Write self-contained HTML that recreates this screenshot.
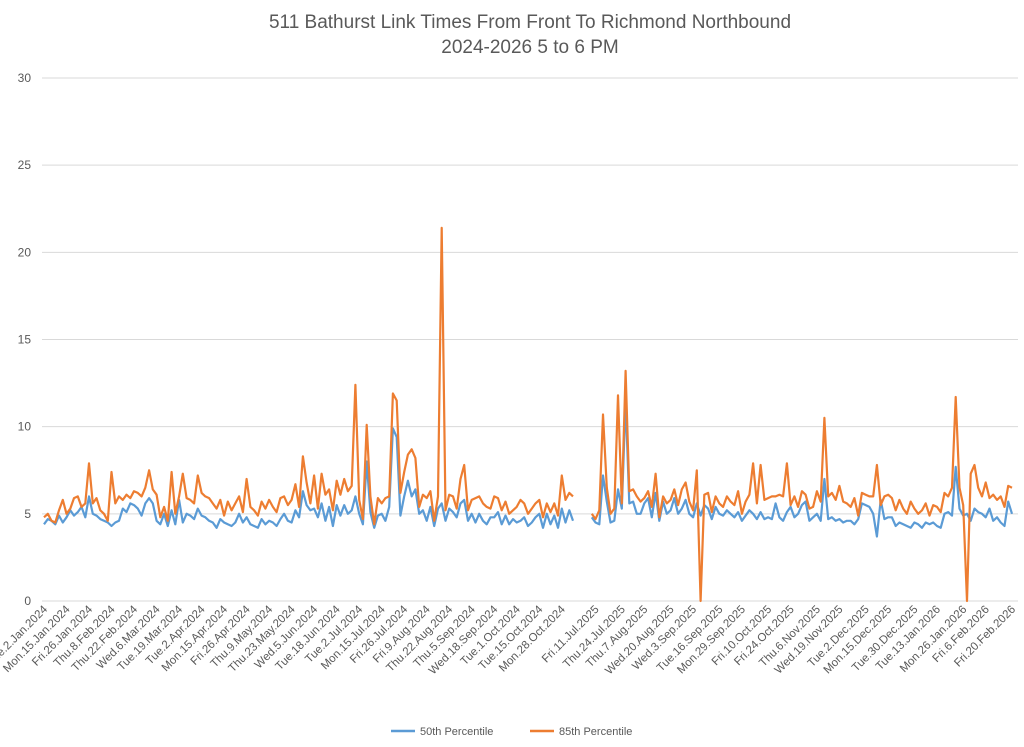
<!DOCTYPE html>
<html><head><meta charset="utf-8"><style>
body{margin:0;background:#fff;}
svg{display:block;font-family:"Liberation Sans",sans-serif;}
</style></head><body>
<svg id="chart" width="1024" height="747">
<text x="530" y="28" text-anchor="middle" font-size="19" fill="#595959">511 Bathurst Link Times From Front To Richmond Northbound</text>
<text x="530" y="53" text-anchor="middle" font-size="19" fill="#595959">2024-2026 5 to 6 PM</text>
<g id="grid"></g><g id="xl"></g><g id="lines"></g>
<g>
<line x1="391" y1="731" x2="415" y2="731" stroke="#5b9bd5" stroke-width="2.5"/>
<text x="420" y="735" font-size="11" fill="#595959">50th Percentile</text>
<line x1="530" y1="731" x2="554" y2="731" stroke="#ed7d31" stroke-width="2.5"/>
<text x="559" y="735" font-size="11" fill="#595959">85th Percentile</text>
</g>
</svg>
<script>
const yTicks=[0,5,10,15,20,25,30];
const p85_2024=[4.8,5.0,4.6,4.5,5.2,5.8,5.0,5.3,5.9,6.0,5.4,5.6,7.9,5.6,5.9,5.2,5.0,4.6,7.4,5.6,6.0,5.8,6.1,5.9,6.3,6.2,6.0,6.5,7.5,6.4,6.1,4.8,5.4,4.6,7.4,5.0,6.0,7.3,5.9,5.8,5.6,7.2,6.2,6.0,5.9,5.6,5.3,5.8,4.9,5.7,5.2,5.6,6.0,5.1,7.0,5.4,5.2,4.9,5.7,5.3,5.8,5.4,5.1,5.9,6.0,5.5,5.8,6.7,5.4,8.3,6.8,5.6,7.2,5.3,7.3,6.1,6.4,5.2,6.9,6.1,7.0,6.3,6.6,12.4,5.8,4.7,10.1,6.0,4.4,5.9,5.6,5.9,6.0,11.9,11.5,6.2,7.4,8.4,8.7,8.2,5.4,6.1,5.9,6.3,4.6,6.0,21.4,5.2,6.1,6.0,5.3,7.0,7.8,5.2,5.8,5.9,6.0,5.6,5.4,5.3,6.0,5.9,5.2,5.7,5.0,5.2,5.4,5.8,5.6,5.0,5.3,5.6,5.8,4.8,5.6,5.1,5.6,4.9,7.2,5.8,6.2,6.0];
const p50_2024=[4.4,4.7,4.6,4.4,4.9,4.5,4.8,5.2,4.9,5.1,5.4,4.8,6.0,5.0,4.9,4.7,4.6,4.5,4.3,4.5,4.6,5.3,5.1,5.6,5.5,5.3,4.9,5.6,5.9,5.6,4.6,4.4,5.0,4.3,5.2,4.4,5.8,4.5,5.0,4.9,4.7,5.3,4.9,4.8,4.6,4.5,4.2,4.7,4.5,4.4,4.3,4.5,5.0,4.5,4.8,4.4,4.3,4.2,4.7,4.4,4.6,4.5,4.3,4.7,5.0,4.6,4.5,5.2,4.8,6.3,5.5,5.2,5.3,4.8,5.6,4.6,5.4,4.3,5.5,4.9,5.5,5.0,5.2,6.0,5.0,4.4,8.0,5.1,4.2,4.9,5.0,4.6,5.4,9.9,9.4,4.9,6.0,6.9,6.0,6.4,5.0,5.2,4.6,5.4,4.3,5.3,5.6,4.6,5.3,5.1,4.8,5.6,5.8,4.6,5.0,4.5,5.0,4.6,4.4,4.8,4.8,5.1,4.4,4.9,4.4,4.7,4.5,4.6,4.8,4.3,4.5,4.8,5.0,4.2,5.0,4.4,4.9,4.2,5.3,4.5,5.2,4.6];
const gapValues=[null,null,null,null];
const p85_2025=[5.0,4.7,5.2,10.7,6.5,5.0,5.3,11.8,5.6,13.2,6.3,6.4,6.0,5.7,5.9,6.3,5.4,7.3,4.8,6.0,5.6,5.8,6.4,5.5,6.4,6.8,5.7,5.2,7.5,0,6.1,6.2,5.1,6.0,5.6,5.4,6.0,5.7,5.5,6.3,5.0,5.7,6.1,7.9,5.6,7.8,5.8,5.9,6.0,6.0,6.1,6.0,7.9,5.5,6.0,5.4,6.3,6.1,5.3,5.4,6.3,5.7,10.5,6.0,6.2,5.8,6.6,5.7,5.6,5.4,5.9,4.9,6.2,6.1,6.0,6.0,7.8,5.5,6.0,6.1,5.9,5.2,5.8,5.3,5.0,5.7,5.3,5.0,5.2,5.6,4.9,5.5,5.4,5.1,6.2,6.0,6.5,11.7,6.5,5.5,0,7.3,7.8,6.5,6.0,6.8,5.9,6.1,5.8,6.0,5.4,6.6,6.5];
const p50_2025=[4.8,4.5,4.4,7.2,5.7,4.5,4.6,6.4,5.3,11.5,5.6,5.7,5.0,5.0,5.6,5.9,4.8,6.2,4.6,5.7,5.0,5.2,5.9,5.0,5.3,5.8,5.0,4.8,5.6,4.9,5.5,5.3,4.7,5.4,5.0,4.9,5.2,5.0,4.8,5.1,4.6,4.9,5.2,5.0,4.7,5.1,4.7,4.8,4.7,5.6,4.8,4.6,5.1,5.4,4.8,5.0,5.5,5.7,4.6,4.8,5.0,4.6,7.0,4.7,4.8,4.6,4.7,4.5,4.6,4.6,4.4,4.7,5.6,5.5,5.4,5.0,3.7,5.8,4.7,4.8,4.8,4.3,4.5,4.4,4.3,4.2,4.5,4.4,4.2,4.5,4.4,4.5,4.3,4.2,5.0,5.1,4.9,7.7,5.3,4.9,5.0,4.6,5.3,5.1,5.0,4.8,5.3,4.6,4.8,4.5,4.3,5.7,5.0];
const labels2024=["Tue.2.Jan.2024","Mon.15.Jan.2024","Fri.26.Jan.2024","Thu.8.Feb.2024","Thu.22.Feb.2024","Wed.6.Mar.2024","Tue.19.Mar.2024","Tue.2.Apr.2024","Mon.15.Apr.2024","Fri.26.Apr.2024","Thu.9.May.2024","Thu.23.May.2024","Wed.5.Jun.2024","Tue.18.Jun.2024","Tue.2.Jul.2024","Mon.15.Jul.2024","Fri.26.Jul.2024","Fri.9.Aug.2024","Thu.22.Aug.2024","Thu.5.Sep.2024","Wed.18.Sep.2024","Tue.1.Oct.2024","Tue.15.Oct.2024","Mon.28.Oct.2024"];
const labels2025=["Fri.11.Jul.2025","Thu.24.Jul.2025","Thu.7.Aug.2025","Wed.20.Aug.2025","Wed.3.Sep.2025","Tue.16.Sep.2025","Mon.29.Sep.2025","Fri.10.Oct.2025","Fri.24.Oct.2025","Thu.6.Nov.2025","Wed.19.Nov.2025","Tue.2.Dec.2025","Mon.15.Dec.2025","Tue.30.Dec.2025","Tue.13.Jan.2026","Mon.26.Jan.2026","Fri.6.Feb.2026","Fri.20.Feb.2026"];
const labelIdx2025=[147,154,160,167,173,180,186,193,199,206,212,219,225,232,238,245,251,258];

const NS="http://www.w3.org/2000/svg";
const p85=p85_2024.concat(gapValues,p85_2025);
const p50=p50_2024.concat(gapValues,p50_2025);
const N=p85.length;
const X0=44,X1=1012,Y0=601,Y30=78;
const xs=i=>X0+i*(X1-X0)/(N-1);
const ys=v=>Y0-v*(Y0-Y30)/30;
function el(t,a,parent){const e=document.createElementNS(NS,t);for(const k in a)e.setAttribute(k,a[k]);parent.appendChild(e);return e;}
const grid=document.getElementById('grid');
yTicks.forEach(v=>{
  const l=el('line',{x1:42,x2:1018,y1:ys(v),y2:ys(v),stroke:'#d9d9d9','stroke-width':1},grid);
  
  
  const t=el('text',{x:31,y:ys(v)+4,'text-anchor':'end','font-size':12,fill:'#595959'},grid);
  t.textContent=v;
  
  
});
const xl=document.getElementById('xl');
const allLabels=labels2024.map((s,k)=>[k*6,s]).concat(labels2025.map((s,k)=>[labelIdx2025[k],s]));
allLabels.forEach(([i,s])=>{
  const x=xs(i)+4,y=610;
  const t=el('text',{x:x,y:y,'text-anchor':'end','font-size':11.5,fill:'#595959',transform:`rotate(-45 ${x} ${y})`},xl);
  t.textContent=s;
  
  
});
const lines=document.getElementById('lines');
function path(arr,color,name){
  let d='',pen=false;
  arr.forEach((v,i)=>{if(v===null){pen=false;return;}d+=(pen?'L':'M')+xs(i).toFixed(1)+' '+ys(v).toFixed(1);pen=true;});
  const p=el('path',{d:d,fill:'none',stroke:color,'stroke-width':2.2,'stroke-linejoin':'round'},lines);
  
  
}
path(p50,'#5b9bd5','series-50th-percentile');
path(p85,'#ed7d31','series-85th-percentile');
</script>
</body></html>
